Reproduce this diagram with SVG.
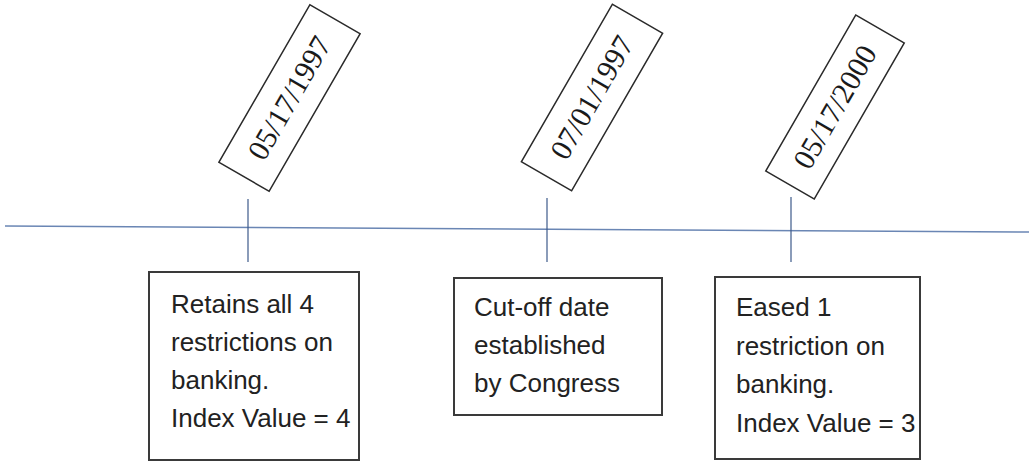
<svg xmlns="http://www.w3.org/2000/svg" width="1029" height="462" viewBox="0 0 1029 462">
<style>
.date rect{fill:#fff;stroke:#2a2a2a;stroke-width:1.5}
.date text{font-family:"Liberation Serif","Times New Roman",serif;font-size:30px;fill:#1a1a1a;text-anchor:middle}
.note rect{fill:#fff;stroke:#3a3a3a;stroke-width:2}
.note text{font-family:"Liberation Sans",Arial,sans-serif;font-size:26px;fill:#222}
.axis{stroke:#6a86b4;stroke-width:1.5;fill:none}
.tick{stroke:#3d5a8a;stroke-width:1.2}
</style>
<rect width="1029" height="462" fill="#fff"/>
<g id="connectors">
<line class="axis" x1="5" y1="226" x2="1029" y2="232"/>
<line class="tick" x1="248" y1="199" x2="248" y2="262"/>
<line class="tick" x1="547" y1="198" x2="547" y2="262"/>
<line class="tick" x1="791" y1="197" x2="791" y2="262"/>
</g>
<g id="date1" class="date" transform="translate(289.5,98) rotate(-60)">
<rect x="-91" y="-29" width="182" height="58"/>
<text x="0" y="10">05/17/1997</text>
</g>
<g id="date2" class="date" transform="translate(592,97.5) rotate(-60)">
<rect x="-91" y="-29" width="182" height="58"/>
<text x="0" y="10">07/01/1997</text>
</g>
<g id="date3" class="date" transform="translate(835,107) rotate(-60)">
<rect x="-90" y="-28" width="180" height="56"/>
<text x="0" y="10">05/17/2000</text>
</g>
<g id="note1" class="note">
<rect x="149" y="272" width="210" height="188"/>
<text x="171" y="313">Retains all 4</text>
<text x="171" y="351">restrictions on</text>
<text x="171" y="389">banking.</text>
<text x="171" y="427">Index Value = 4</text>
</g>
<g id="note2" class="note">
<rect x="454" y="278" width="208" height="137"/>
<text x="474" y="316">Cut-off date</text>
<text x="474" y="354">established</text>
<text x="474" y="392">by Congress</text>
</g>
<g id="note3" class="note">
<rect x="715" y="277" width="205" height="182"/>
<text x="736" y="316">Eased 1</text>
<text x="736" y="355">restriction on</text>
<text x="736" y="393">banking.</text>
<text x="736" y="432">Index Value = 3</text>
</g>
</svg>
